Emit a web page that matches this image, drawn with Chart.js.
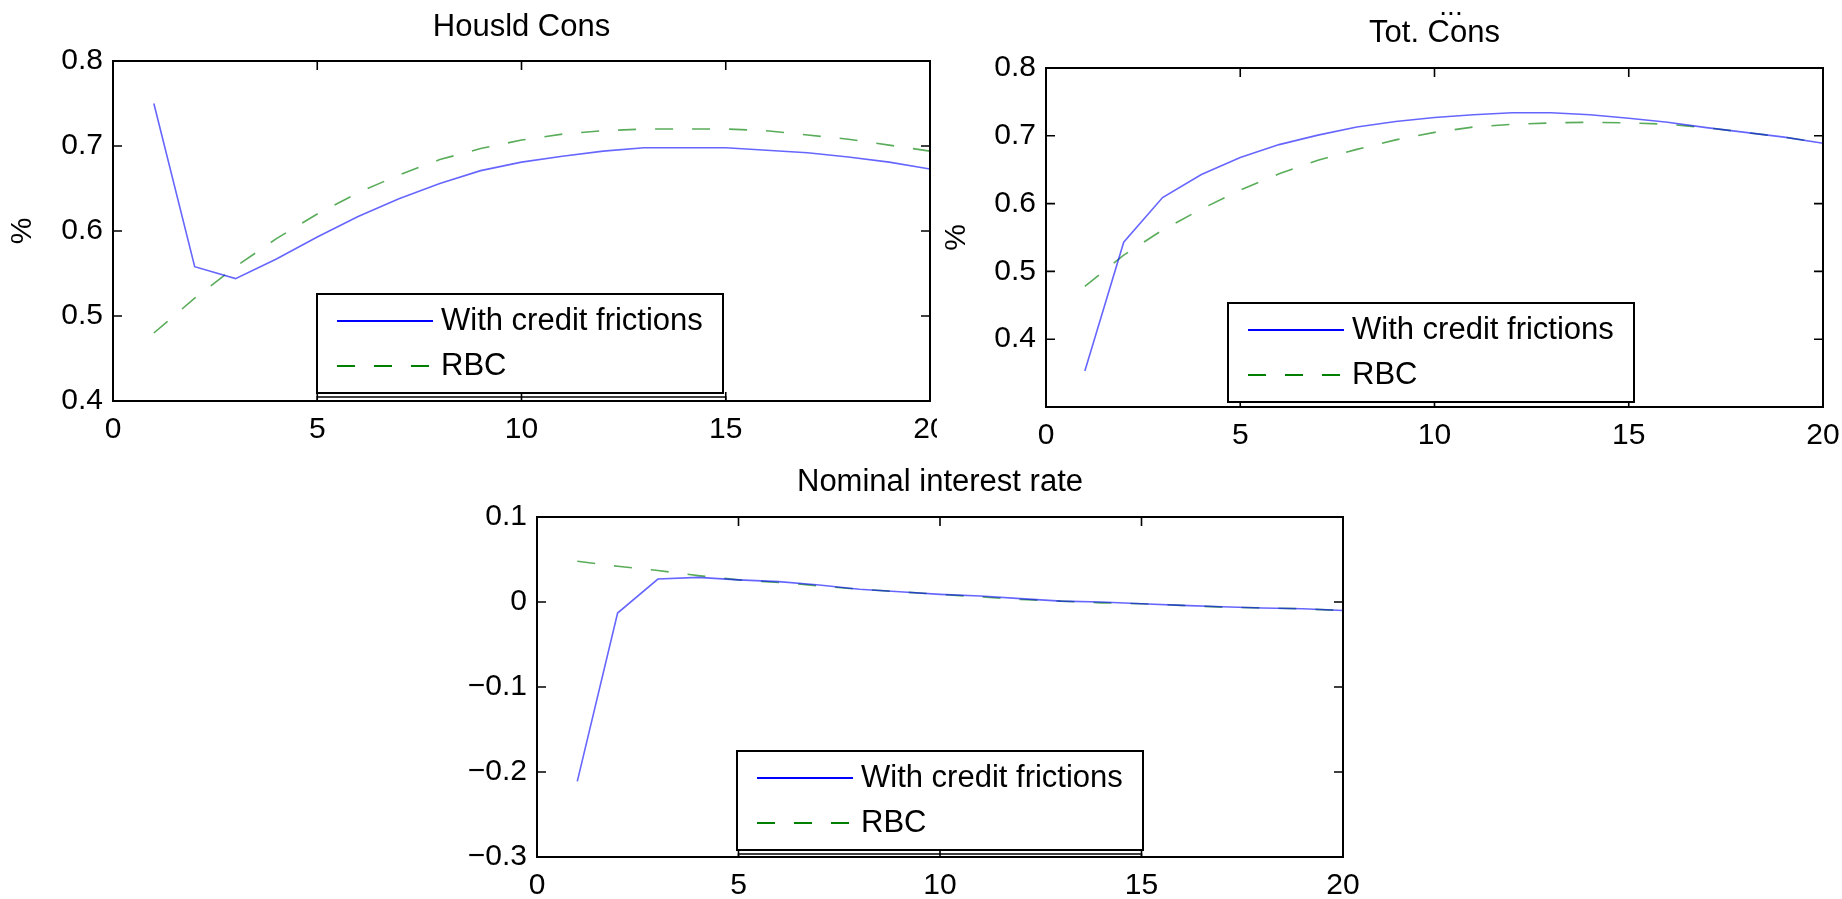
<!DOCTYPE html>
<html>
<head>
<meta charset="utf-8">
<title>Housld Cons / Tot. Cons / Nominal interest rate</title>
<script src="https://cdn.jsdelivr.net/npm/chart.js@4.4.1/dist/chart.umd.min.js"></script>
<style>
	html, body { margin: 0; padding: 0; background: #fff; }
	body { width: 1842px; height: 899px; position: relative; overflow: hidden; }
	.panel { position: absolute; }
	.panel canvas { display: block; }
</style>
</head>
<body>
<div class="panel" style="left:0;top:0"><canvas id="housld" width="937" height="450"></canvas></div>
<div class="panel" style="left:940px;top:0"><canvas id="totcons" width="902" height="450"></canvas></div>
<div class="panel" style="left:440px;top:440px"><canvas id="rate" width="920" height="459"></canvas></div>
<script>
// quarters after the shock
var periods = [1, 2, 3, 4, 5, 6, 7, 8, 9, 10, 11, 12, 13, 14, 15, 16, 17, 18, 19, 20];
var xTicks = [0, 5, 10, 15, 20];

// Housld Cons
var housldCredit = [0.750, 0.558, 0.544, 0.567, 0.593, 0.617, 0.638, 0.656, 0.671, 0.681, 0.688, 0.694, 0.698, 0.698, 0.698, 0.695, 0.692, 0.687, 0.681, 0.673];
var housldRbc = [0.480, 0.521, 0.558, 0.591, 0.620, 0.645, 0.666, 0.684, 0.697, 0.707, 0.714, 0.718, 0.720, 0.720, 0.720, 0.718, 0.713, 0.708, 0.701, 0.694];
var housldTicks = [0.4, 0.5, 0.6, 0.7, 0.8];

// Tot. Cons
var totCredit = [0.353, 0.543, 0.609, 0.643, 0.668, 0.687, 0.701, 0.713, 0.721, 0.727, 0.731, 0.734, 0.734, 0.731, 0.726, 0.720, 0.712, 0.705, 0.698, 0.689];
var totRbc = [0.478, 0.524, 0.561, 0.592, 0.620, 0.644, 0.664, 0.680, 0.694, 0.705, 0.713, 0.717, 0.719, 0.720, 0.719, 0.717, 0.712, 0.705, 0.698, 0.689];
var totTicks = [0.4, 0.5, 0.6, 0.7, 0.8];

// Nominal interest rate
var rateCredit = [-0.211, -0.013, 0.027, 0.029, 0.026, 0.024, 0.020, 0.015, 0.012, 0.009, 0.007, 0.004, 0.001, 0.000, -0.002, -0.004, -0.0055, -0.007, -0.008, -0.010];
var rateRbc = [0.048, 0.042, 0.037, 0.031, 0.026, 0.023, 0.019, 0.015, 0.012, 0.009, 0.006, 0.003, 0.001, -0.001, -0.002, -0.004, -0.006, -0.007, -0.008, -0.010];
var rateTicks = [-0.3, -0.2, -0.1, 0, 0.1];

var FONT = '"Liberation Sans", Arial, Helvetica, sans-serif';

function fmt(v) {
	var r = Math.round(v * 10) / 10;
	if (r === 0) return '0';
	return String(r).replace('-', '\u2212');
}

// matlab style box, inward ticks and boxed legend
var matlabFrame = {
	id: 'matlabFrame',
	afterDraw: function (chart, args, opts) {
		var ctx = chart.ctx;
		var a = chart.chartArea;
		var x = chart.scales.x, y = chart.scales.y;
		ctx.save();
		ctx.strokeStyle = '#000';
		ctx.lineWidth = 2;
		ctx.strokeRect(a.left, a.top, a.right - a.left, a.bottom - a.top);

		ctx.lineWidth = 1.6;
		ctx.beginPath();
		x.ticks.forEach(function (t) {
			var px = x.getPixelForValue(t.value);
			ctx.moveTo(px, a.top); ctx.lineTo(px, a.top + 9);
			ctx.moveTo(px, a.bottom); ctx.lineTo(px, a.bottom - 9);
		});
		y.ticks.forEach(function (t) {
			var py = y.getPixelForValue(t.value);
			ctx.moveTo(a.left, py); ctx.lineTo(a.left + 9, py);
			ctx.moveTo(a.right, py); ctx.lineTo(a.right - 9, py);
		});
		ctx.stroke();

		var lg = opts.legend;
		var w = 406, h = 99;
		var left = a.left + lg.left;
		var top = a.bottom - lg.bottom - h;
		ctx.fillStyle = '#fff';
		ctx.fillRect(left, top, w, h);
		ctx.lineWidth = 2;
		ctx.strokeRect(left, top, w, h);
		if (lg.frame) {
			ctx.lineWidth = 1.5;
			var fx1 = x.getPixelForValue(5), fx2 = x.getPixelForValue(15);
			ctx.strokeRect(fx1, a.bottom - lg.bottom + 4, fx2 - fx1, lg.bottom - 4);
		}
		ctx.font = '31px ' + FONT;
		ctx.textBaseline = 'middle';
		ctx.textAlign = 'left';
		chart.data.datasets.forEach(function (ds, i) {
			var rowY = top + 27 + i * 45;
			ctx.strokeStyle = ds.legendColor;
			ctx.lineWidth = 2.2;
			ctx.setLineDash(ds.borderDash || []);
			ctx.beginPath();
			ctx.moveTo(left + 20, rowY);
			ctx.lineTo(left + 116, rowY);
			ctx.stroke();
			ctx.setLineDash([]);
			ctx.fillStyle = '#000';
			ctx.fillText(ds.label, left + 124, rowY);
		});

		if (opts.note) {
			ctx.font = '28px ' + FONT;
			ctx.textAlign = 'center';
			ctx.textBaseline = 'alphabetic';
			ctx.fillStyle = '#000';
			ctx.fillText(opts.note.text, opts.note.x, opts.note.y);
		}
		ctx.restore();
	}
};

function makeChart(id, cfg) {
	var ctx = document.getElementById(id).getContext('2d');
	return new Chart(ctx, {
		type: 'line',
		data: {
			datasets: [{
				label: 'With credit frictions',
				data: periods.map(function (p, i) { return { x: p, y: cfg.credit[i] }; }),
				borderColor: 'rgba(0, 0, 255, 0.6)',
				legendColor: '#0000ff',
				borderWidth: 1.6,
				pointRadius: 0,
				tension: 0,
				fill: false
			}, {
				label: 'RBC',
				data: periods.map(function (p, i) { return { x: p, y: cfg.rbc[i] }; }),
				borderColor: 'rgba(0, 128, 0, 0.65)',
				legendColor: '#008000',
				borderWidth: 1.6,
				borderDash: [18, 19],
				pointRadius: 0,
				tension: 0,
				fill: false
			}]
		},
		options: {
			responsive: false,
			animation: false,
			events: [],
			layout: { padding: cfg.pad },
			plugins: {
				legend: { display: false },
				tooltip: { enabled: false },
				title: {
					display: true,
					text: cfg.title,
					fullSize: false,
					color: '#000',
					font: { family: FONT, size: 31, weight: 'normal', lineHeight: 1.2 },
					padding: cfg.titlePad
				},
				matlabFrame: { legend: cfg.legend, note: cfg.note }
			},
			scales: {
				x: {
					type: 'linear',
					min: 0,
					max: 20,
					afterBuildTicks: function (s) { s.ticks = xTicks.map(function (v) { return { value: v }; }); },
					afterFit: function (s) { s.height = 40; s.paddingLeft = 0; s.paddingRight = 0; },
					grid: { display: false, drawTicks: false },
					border: { display: false },
					ticks: {
						color: '#000',
						font: { family: FONT, size: 30 },
						padding: 11,
						maxRotation: 0,
						autoSkip: false
					}
				},
				y: {
					type: 'linear',
					min: cfg.yMin,
					max: cfg.yMax,
					afterBuildTicks: function (s) { s.ticks = cfg.yTicks.map(function (v) { return { value: v }; }); },
					afterFit: function (s) { s.width = cfg.yWidth; s.paddingTop = 0; s.paddingBottom = 0; },
					grid: { display: false, drawTicks: false },
					border: { display: false },
					title: {
						display: !!cfg.yTitle,
						text: cfg.yTitle || '',
						color: '#000',
						font: { family: FONT, size: 30, lineHeight: 1 },
						padding: { top: cfg.yTitlePad || 0, bottom: 0 }
					},
					ticks: {
						color: '#000',
						font: { family: FONT, size: 30 },
						padding: 10,
						autoSkip: false,
						callback: function (v) { return fmt(v); }
					}
				}
			}
		},
		plugins: [matlabFrame]
	});
}

makeChart('housld', {
	title: 'Housld Cons',
	credit: housldCredit,
	rbc: housldRbc,
	yMin: 0.4, yMax: 0.8, yTicks: housldTicks,
	yTitle: '%', yTitlePad: 8,
	yWidth: 113,
	pad: { left: 0, top: 0, right: 7, bottom: 9 },
	titlePad: { top: 8.4, bottom: 15.4 },
	legend: { left: 204, bottom: 8, frame: true }
});

makeChart('totcons', {
	title: 'Tot. Cons',
	credit: totCredit,
	rbc: totRbc,
	yMin: 0.3, yMax: 0.8, yTicks: totTicks,
	yTitle: '%', yTitlePad: 2,
	yWidth: 106,
	pad: { left: 0, top: 0, right: 19, bottom: 3 },
	titlePad: { top: 14.4, bottom: 16.4 },
	legend: { left: 182, bottom: 5, frame: false },
	note: { text: '...', x: 511, y: 15 }
});

makeChart('rate', {
	title: 'Nominal interest rate',
	credit: rateCredit,
	rbc: rateRbc,
	yMin: -0.3, yMax: 0.1, yTicks: rateTicks,
	yWidth: 97,
	pad: { left: 0, top: 0, right: 17, bottom: 2 },
	titlePad: { top: 23.4, bottom: 16.4 },
	legend: { left: 200, bottom: 7, frame: true }
});
</script>
</body>
</html>
